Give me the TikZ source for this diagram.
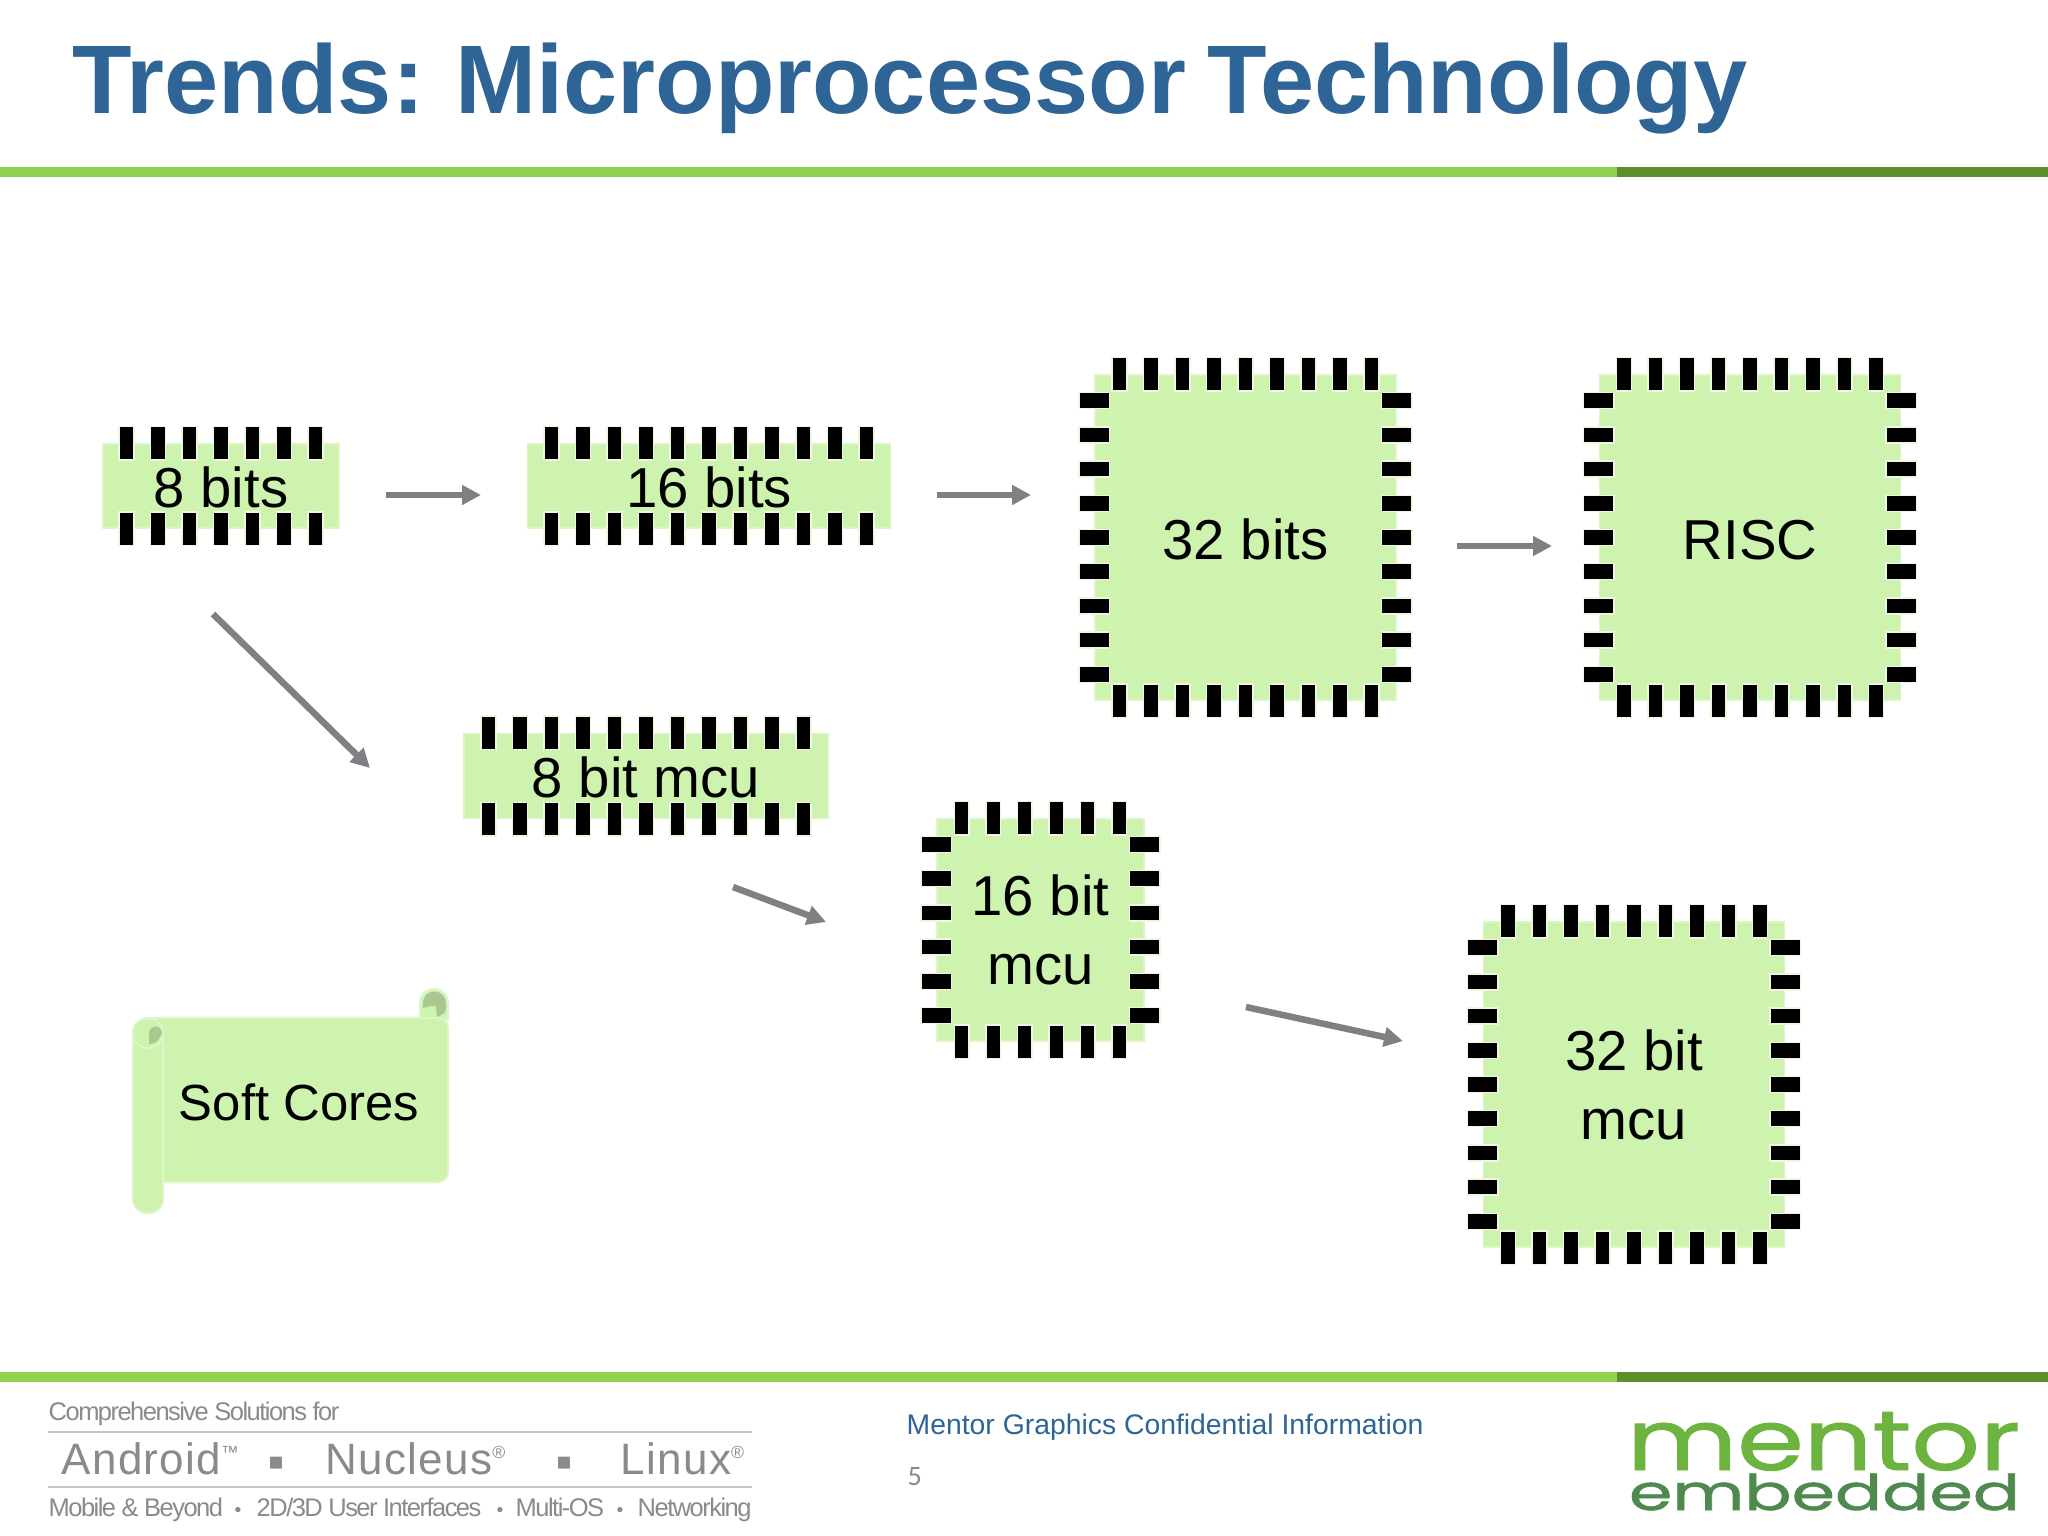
\documentclass[tikz,border=0pt]{standalone}
\usepackage{fontspec}
\setmainfont{Liberation Sans}
\newfontfamily\tightfont[LetterSpace=-6]{Liberation Sans}
\newfontfamily\widefont[LetterSpace=3]{Liberation Sans}
\newfontfamily\pagefont{Carlito}
\newfontfamily\logofont[FakeBold=1]{Poppins}
\usetikzlibrary{arrows.meta,calc}

\definecolor{titleblue}{HTML}{2F6496}
\definecolor{rulelight}{HTML}{92D050}
\definecolor{ruledark}{HTML}{5A8F29}
\definecolor{chipgreen}{HTML}{CDF3AE}
\definecolor{chipedge}{HTML}{DCF6C5}
\definecolor{pinedge}{HTML}{F0F7E0}
\definecolor{curlgreen}{HTML}{A9C890}
\definecolor{flowgray}{HTML}{807F83}
\definecolor{footgray}{HTML}{8A8A8A}
\definecolor{logolight}{HTML}{6DB33F}
\definecolor{logodark}{HTML}{4E8A4E}

\tikzset{
  chipbody/.style={rectangle,fill=chipgreen,draw=chipedge,line width=0.4pt,inner sep=0pt,align=center,
    font=\fontsize{16}{19.6}\selectfont},
  oneline/.style={chipbody,text height=12.4pt},
  pin/.style={fill=black,draw=pinedge,line width=0.4pt},
  flow/.style={draw=flowgray,line width=1.85pt,-{Triangle[length=5.4pt,width=5.4pt]}},
  scrollpart/.style={fill=chipgreen,draw=chipedge,line width=0.6pt},
  foot/.style={anchor=base west,inner sep=0pt,text=footgray},
  footrow/.style={foot,font=\tightfont\fontsize{7.25}{9}\selectfont},
  footdot/.style={foot,font=\fontsize{5.5}{7}\selectfont},
  brand/.style={foot,font=\widefont\fontsize{12.5}{15}\selectfont},
  logo/.style={anchor=base west,inner sep=0pt,transform shape}
}

\newcommand{\tallpins}[2]{
  \pgfmathsetmacro{\pinstart}{-(#2-1)*31.5/2-7.35}
  \foreach \i in {1,...,#2} {
    \pgfmathsetmacro{\pinx}{\pinstart+(\i-1)*31.5}
    \draw[pin] ($(#1.north)+(\pinx,-16.7)$) rectangle +(14.7,33.4);
    \draw[pin] ($(#1.south)+(\pinx,-16.7)$) rectangle +(14.7,33.4);
  }
}
\newcommand{\sidepins}[2]{
  \pgfmathsetmacro{\pinstart}{-(#2-1)*34.2/2-8}
  \foreach \i in {1,...,#2} {
    \pgfmathsetmacro{\piny}{\pinstart+(\i-1)*34.2}
    \draw[pin] ($(#1.west)+(-15.2,\piny)$) rectangle +(30.4,16);
    \draw[pin] ($(#1.east)+(-15.2,\piny)$) rectangle +(30.4,16);
  }
}

\begin{document}
\begin{tikzpicture}[x=0.01cm,y=-0.01cm]
\useasboundingbox (0,0) rectangle (2048,1536);
\fill[white] (0,0) rectangle (2048,1536);

\node[anchor=base west,inner sep=0pt,text=titleblue,font=\bfseries\fontsize{27.7}{32}\selectfont] (title) at (72,113) {\spaceskip=0.223em Trends: Microprocessor Technology};

\fill[rulelight] (0,167) rectangle (1617,177);
\fill[ruledark] (1617,167) rectangle (2048,177);
\fill[rulelight] (0,1372) rectangle (1617,1382);
\fill[ruledark] (1617,1372) rectangle (2048,1382);

\node[oneline,minimum width=2.36cm,minimum height=0.84cm] (bits8) at (221,486) {8 bits};
\node[oneline,minimum width=3.63cm,minimum height=0.84cm] (bits16) at (709,486) {16 bits};
\node[oneline,minimum width=3.01cm,minimum height=3.25cm] (bits32) at (1245.5,537.5) {32 bits};
\node[oneline,minimum width=3.01cm,minimum height=3.25cm] (risc) at (1750,537.5) {RISC};
\node[oneline,minimum width=3.64cm,minimum height=0.85cm] (mcu8) at (646,776) {8 bit mcu};
\node[chipbody,minimum width=2.07cm,minimum height=2.22cm] (mcu16) at (1040.5,930) {16 bit\\mcu};
\node[chipbody,minimum width=3.01cm,minimum height=3.25cm] (mcu32) at (1634,1084.5) {32 bit\\mcu};

\tallpins{bits8}{7}
\tallpins{bits16}{11}
\tallpins{mcu8}{11}
\tallpins{bits32}{9}
\sidepins{bits32}{9}
\tallpins{risc}{9}
\sidepins{risc}{9}
\tallpins{mcu16}{6}
\sidepins{mcu16}{6}
\tallpins{mcu32}{9}
\sidepins{mcu32}{9}

\coordinate (bits8out) at (386,495);
\coordinate (bits16in) at (481,495);
\coordinate (bits16out) at (937,495);
\coordinate (bits32in) at (1031,495);
\coordinate (bits32out) at (1457,546);
\coordinate (riscin) at (1552,546);
\coordinate (bits8down) at (213,614);
\coordinate (mcu8in) at (370,768);
\coordinate (mcu8out) at (733,887);
\coordinate (mcu16in) at (826,922);
\coordinate (mcu16out) at (1246,1007);
\coordinate (mcu32in) at (1403,1041);

\draw[flow] (bits8out) -- (bits16in);
\draw[flow] (bits16out) -- (bits32in);
\draw[flow] (bits32out) -- (riscin);
\draw[flow] (bits8down) -- (mcu8in);
\draw[flow] (mcu8out) -- (mcu16in);
\draw[flow] (mcu16out) -- (mcu32in);

\draw[scrollpart] (420,1020) -- (420,1003) arc (180:360:14) -- (448,1020) -- cycle;
\fill[curlgreen] (423,1003) arc (180:360:11.5) -- (446,1008) .. controls (445,1013) .. (437,1017) -- (436,1006) .. controls (430,1006) .. (423,1008) -- cycle;
\draw[scrollpart,rounded corners=0.1cm] (140,1018) -- (448,1018) -- (448,1182) -- (150,1182) -- (133,1100) -- cycle;
\draw[scrollpart,rounded corners=0.14cm] (133,1033) -- (133,1213) -- (163,1213) -- (163,1033);
\draw[scrollpart] (133,1033) arc (180:0:15) arc (0:-180:15);
\fill[curlgreen] (162,1033) arc (0:-180:6.5) -- (149,1044) .. controls (157,1043) .. (162,1033) -- cycle;
\node[inner sep=0pt,font=\fontsize{14.45}{17}\selectfont] (softcores) at (299,1102) {Soft Cores};

\node[footrow] (solutions) at (48,1420) {Comprehensive Solutions for};
\draw[footgray!50,line width=0.4pt] (48,1432) -- (752,1432);
\draw[footgray!50,line width=0.4pt] (48,1487) -- (752,1487);

\node[brand] (android) at (61,1474) {Android\textsuperscript{\tiny ™}};
\node[foot,font=\fontsize{7}{8}\selectfont] (dotone) at (268,1470) {■};
\node[brand] (nucleus) at (325,1474) {Nucleus\textsuperscript{\tiny ®}};
\node[foot,font=\fontsize{7}{8}\selectfont] (dottwo) at (556,1470) {■};
\node[brand] (linux) at (620,1474) {Linux\textsuperscript{\tiny ®}};

\node[footrow] (mobile) at (48,1516) {Mobile \& Beyond};
\node[footdot] (sepone) at (234,1516) {•};
\node[footrow] (ui) at (256,1516) {2D/3D User Interfaces};
\node[footdot] (septwo) at (496,1516) {•};
\node[footrow] (multios) at (515,1516) {Multi-OS};
\node[footdot] (septhree) at (616,1516) {•};
\node[footrow] (networking) at (637,1516) {Networking};

\node[anchor=west,inner sep=0pt,text=titleblue,font=\fontsize{8.06}{10}\selectfont] (confidential) at (906,1427) {Mentor Graphics Confidential Information};
\node[anchor=west,inner sep=0pt,text=footgray,font=\pagefont\fontsize{8}{10}\selectfont] (pagenum) at (907,1477) {5};

\node[logo,xscale=1.27,text=logolight,font=\logofont\fontsize{24}{28}\selectfont] (mentor) at (1626,1470) {mentor};
\node[logo,xscale=1.42,text=logodark,font=\logofont\fontsize{14}{16}\selectfont] (embedded) at (1628,1510) {embedded};
\end{tikzpicture}
\end{document}
